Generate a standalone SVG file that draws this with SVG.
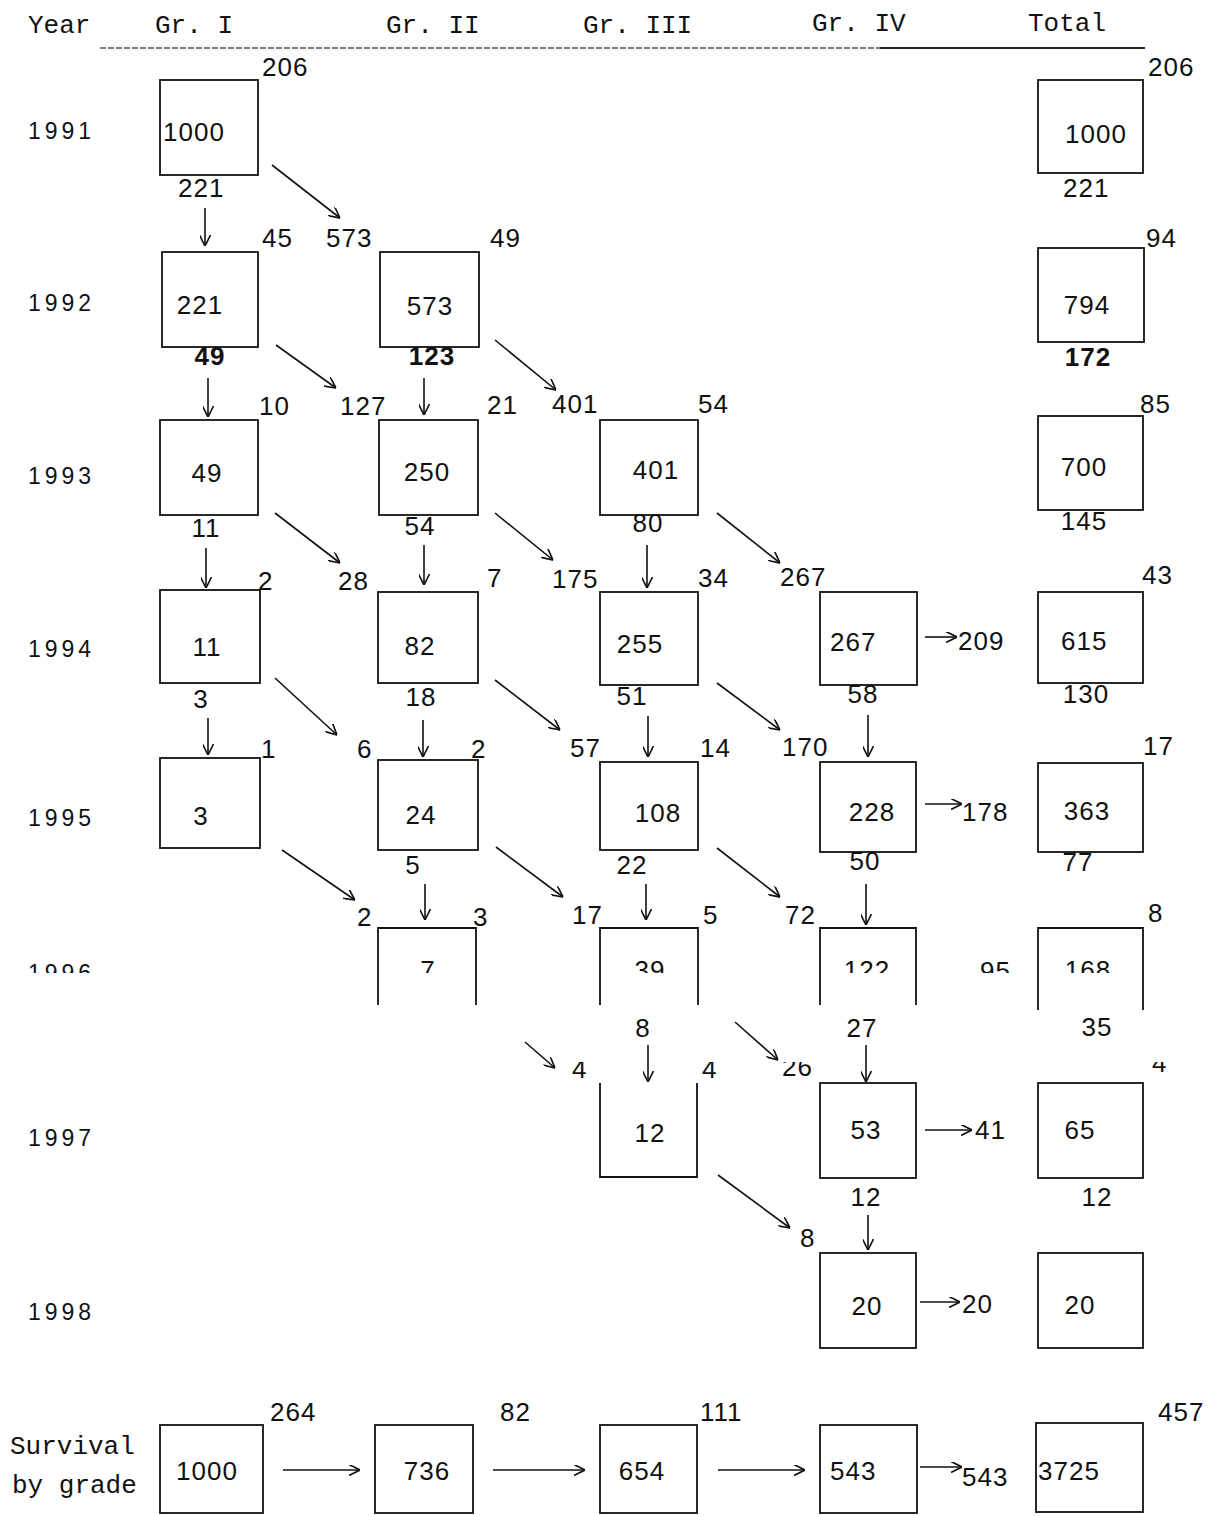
<svg xmlns="http://www.w3.org/2000/svg" width="1210" height="1516" viewBox="0 0 1210 1516">
<style>
.n{font-family:"Liberation Sans",Arial,sans-serif;font-size:26px;fill:#111;letter-spacing:1px}
.y{font-family:"Liberation Sans",Arial,sans-serif;font-size:23px;fill:#111;letter-spacing:4px}
.m{font-family:"Liberation Mono","Courier New",monospace;font-size:26px;fill:#111}
.b{font-weight:bold}
.c{text-anchor:middle}
.box{fill:none;stroke:#111;stroke-width:1.8}
.ar{fill:none;stroke:#111;stroke-width:1.6;marker-end:url(#ah)}
</style>
<defs>
<marker id="ah" viewBox="0 0 10 10" refX="10" refY="5" markerWidth="11" markerHeight="11" markerUnits="userSpaceOnUse" orient="auto">
<path d="M0,0 L10,5 L0,10" fill="none" stroke="#111" stroke-width="1.5"/>
</marker>
<clipPath id="top96"><rect x="0" y="930" width="1210" height="43"/></clipPath>
<clipPath id="bot97"><rect x="0" y="1062" width="1210" height="30"/></clipPath>
</defs>
<rect width="1210" height="1516" fill="#fff"/>

<g id="header">
<text class="m" x="28" y="33">Year</text>
<text class="m" x="155" y="33">Gr. I</text>
<text class="m" x="386" y="33">Gr. II</text>
<text class="m" x="583" y="33">Gr. III</text>
<text class="m" x="812" y="31">Gr. IV</text>
<text class="m" x="1028" y="31">Total</text>
<line x1="100" y1="48" x2="1145" y2="48" stroke="#555" stroke-width="1.3" stroke-dasharray="6 2"/>
<line x1="880" y1="48" x2="1145" y2="48" stroke="#222" stroke-width="2"/>
</g>

<g id="years">
<text class="y" x="28" y="139">1991</text>
<text class="y" x="28" y="311">1992</text>
<text class="y" x="28" y="484">1993</text>
<text class="y" x="28" y="657">1994</text>
<text class="y" x="28" y="826">1995</text>
<text class="y" x="28" y="981" clip-path="url(#top96)">1996</text>
<text class="y" x="28" y="1146">1997</text>
<text class="y" x="28" y="1320">1998</text>
<text class="m" x="10" y="1454">Survival</text>
<text class="m" x="12" y="1493">by grade</text>
</g>

<!-- 1991 -->
<g id="g1-1991">
<rect class="box" x="160" y="80" width="98" height="95"/>
<text class="n" x="163" y="141">1000</text>
<text class="n" x="262" y="76">206</text>
<text class="n" x="178" y="197">221</text>
</g>
<g id="tot-1991">
<rect class="box" x="1038" y="80" width="105" height="93"/>
<text class="n c" x="1096" y="143">1000</text>
<text class="n" x="1148" y="76">206</text>
<text class="n" x="1063" y="197">221</text>
</g>

<!-- 1992 -->
<g id="g1-1992">
<rect class="box" x="162" y="252" width="96" height="95"/>
<text class="n c" x="200" y="314">221</text>
<text class="n" x="262" y="247">45</text>
<text class="n b c" x="210" y="365">49</text>
</g>
<g id="g2-1992">
<rect class="box" x="380" y="252" width="99" height="95"/>
<text class="n c" x="430" y="315">573</text>
<text class="n" x="326" y="247">573</text>
<text class="n" x="490" y="247">49</text>
<text class="n b c" x="432" y="365">123</text>
</g>
<g id="tot-1992">
<rect class="box" x="1038" y="248" width="106" height="94"/>
<text class="n c" x="1087" y="314">794</text>
<text class="n" x="1146" y="247">94</text>
<text class="n b c" x="1088" y="366">172</text>
</g>

<!-- 1993 -->
<g id="g1-1993">
<rect class="box" x="160" y="420" width="98" height="95"/>
<text class="n c" x="207" y="482">49</text>
<text class="n" x="259" y="415">10</text>
<text class="n c" x="206" y="537">11</text>
</g>
<g id="g2-1993">
<rect class="box" x="379" y="420" width="99" height="95"/>
<text class="n c" x="427" y="481">250</text>
<text class="n" x="340" y="415">127</text>
<text class="n" x="487" y="414">21</text>
<text class="n c" x="420" y="535">54</text>
</g>
<g id="g3-1993">
<rect class="box" x="600" y="420" width="98" height="95"/>
<text class="n c" x="656" y="479">401</text>
<text class="n" x="552" y="413">401</text>
<text class="n" x="698" y="413">54</text>
<text class="n c" x="648" y="532">80</text>
</g>
<g id="tot-1993">
<rect class="box" x="1038" y="416" width="105" height="94"/>
<text class="n c" x="1084" y="476">700</text>
<text class="n" x="1140" y="413">85</text>
<text class="n c" x="1084" y="530">145</text>
</g>

<!-- 1994 -->
<g id="g1-1994">
<rect class="box" x="160" y="590" width="100" height="93"/>
<text class="n c" x="207" y="656">11</text>
<text class="n" x="258" y="590">2</text>
<text class="n c" x="201" y="708">3</text>
</g>
<g id="g2-1994">
<rect class="box" x="378" y="592" width="100" height="91"/>
<text class="n c" x="420" y="655">82</text>
<text class="n" x="338" y="590">28</text>
<text class="n" x="487" y="587">7</text>
<text class="n c" x="421" y="706">18</text>
</g>
<g id="g3-1994">
<rect class="box" x="600" y="592" width="98" height="93"/>
<text class="n c" x="640" y="653">255</text>
<text class="n" x="552" y="588">175</text>
<text class="n" x="698" y="587">34</text>
<text class="n c" x="632" y="705">51</text>
</g>
<g id="g4-1994">
<rect class="box" x="820" y="592" width="97" height="93"/>
<text class="n" x="830" y="651">267</text>
<text class="n" x="780" y="586">267</text>
<text class="n c" x="863" y="703">58</text>
<text class="n" x="958" y="650">209</text>
</g>
<g id="tot-1994">
<rect class="box" x="1038" y="592" width="105" height="91"/>
<text class="n" x="1061" y="650">615</text>
<text class="n" x="1142" y="584">43</text>
<text class="n c" x="1086" y="703">130</text>
</g>

<!-- 1995 -->
<g id="g1-1995">
<rect class="box" x="160" y="758" width="100" height="90"/>
<text class="n c" x="201" y="825">3</text>
<text class="n" x="261" y="758">1</text>
</g>
<g id="g2-1995">
<rect class="box" x="378" y="760" width="100" height="90"/>
<text class="n c" x="421" y="824">24</text>
<text class="n" x="357" y="758">6</text>
<text class="n" x="471" y="758">2</text>
<text class="n c" x="413" y="874">5</text>
</g>
<g id="g3-1995">
<rect class="box" x="600" y="762" width="98" height="88"/>
<text class="n c" x="658" y="822">108</text>
<text class="n" x="570" y="757">57</text>
<text class="n" x="700" y="757">14</text>
<text class="n c" x="632" y="874">22</text>
</g>
<g id="g4-1995">
<rect class="box" x="820" y="762" width="96" height="90"/>
<text class="n c" x="872" y="821">228</text>
<text class="n" x="782" y="756">170</text>
<text class="n c" x="865" y="870">50</text>
<text class="n" x="962" y="821">178</text>
</g>
<g id="tot-1995">
<rect class="box" x="1038" y="763" width="105" height="89"/>
<text class="n c" x="1087" y="820">363</text>
<text class="n" x="1143" y="755">17</text>
<text class="n c" x="1078" y="871">77</text>
</g>

<!-- 1996 -->
<g id="g2-1996">
<path class="box" d="M378,1005 V928 H476 V1005"/>
<text class="n c" x="428" y="979" clip-path="url(#top96)">7</text>
<text class="n" x="357" y="926">2</text>
<text class="n" x="473" y="926">3</text>
</g>
<g id="g3-1996">
<path class="box" d="M600,1005 V928 H698 V1005"/>
<text class="n c" x="650" y="979" clip-path="url(#top96)">39</text>
<text class="n" x="572" y="924">17</text>
<text class="n" x="703" y="924">5</text>
<text class="n c" x="643" y="1037">8</text>
</g>
<g id="g4-1996">
<path class="box" d="M820,1005 V928 H916 V1005"/>
<text class="n c" x="867" y="979" clip-path="url(#top96)">122</text>
<text class="n" x="785" y="924">72</text>
<text class="n c" x="862" y="1037">27</text>
<text class="n" x="980" y="980" clip-path="url(#top96)">95</text>
</g>
<g id="tot-1996">
<path class="box" d="M1038,1010 V928 H1143 V1010"/>
<text class="n c" x="1088" y="979" clip-path="url(#top96)">168</text>
<text class="n" x="1148" y="922">8</text>
<text class="n c" x="1097" y="1036">35</text>
</g>

<!-- 1997 -->
<g id="g3-1997">
<path class="box" d="M600,1083 V1177 H697 V1083"/>
<text class="n c" x="650" y="1142">12</text>
<text class="n" x="572" y="1078" clip-path="url(#bot97)">4</text>
<text class="n" x="702" y="1078" clip-path="url(#bot97)">4</text>
</g>
<g id="g4-1997">
<rect class="box" x="820" y="1083" width="96" height="95"/>
<text class="n c" x="866" y="1139">53</text>
<text class="n" x="782" y="1076" clip-path="url(#bot97)">26</text>
<text class="n c" x="866" y="1206">12</text>
<text class="n" x="975" y="1139">41</text>
</g>
<g id="tot-1997">
<rect class="box" x="1038" y="1083" width="105" height="95"/>
<text class="n c" x="1080" y="1139">65</text>
<text class="n" x="1152" y="1072" clip-path="url(#bot97)">4</text>
<text class="n c" x="1097" y="1206">12</text>
</g>

<!-- 1998 -->
<g id="g4-1998">
<rect class="box" x="820" y="1253" width="96" height="95"/>
<text class="n c" x="867" y="1315">20</text>
<text class="n" x="800" y="1247">8</text>
<text class="n" x="962" y="1313">20</text>
</g>
<g id="tot-1998">
<rect class="box" x="1038" y="1253" width="105" height="95"/>
<text class="n c" x="1080" y="1314">20</text>
</g>

<!-- Survival by grade -->
<g id="s1">
<rect class="box" x="160" y="1425" width="103" height="88"/>
<text class="n c" x="207" y="1480">1000</text>
<text class="n" x="270" y="1421">264</text>
</g>
<g id="s2">
<rect class="box" x="375" y="1425" width="98" height="88"/>
<text class="n c" x="427" y="1480">736</text>
<text class="n" x="500" y="1421">82</text>
</g>
<g id="s3">
<rect class="box" x="600" y="1425" width="97" height="88"/>
<text class="n c" x="642" y="1480">654</text>
<text class="n" x="700" y="1421">111</text>
</g>
<g id="s4">
<rect class="box" x="820" y="1425" width="97" height="88"/>
<text class="n" x="830" y="1480">543</text>
<text class="n" x="962" y="1486">543</text>
</g>
<g id="s-total">
<rect class="box" x="1036" y="1423" width="107" height="89"/>
<text class="n" x="1038" y="1480">3725</text>
<text class="n" x="1158" y="1421">457</text>
</g>

<g id="connectors">
<line class="ar" x1="205" y1="208" x2="205" y2="246"/>
<line class="ar" x1="272" y1="165" x2="340" y2="218"/>
<line class="ar" x1="208" y1="378" x2="208" y2="417"/>
<line class="ar" x1="276" y1="345" x2="336" y2="388"/>
<line class="ar" x1="424" y1="378" x2="424" y2="415"/>
<line class="ar" x1="495" y1="340" x2="556" y2="390"/>
<line class="ar" x1="206" y1="548" x2="206" y2="588"/>
<line class="ar" x1="275" y1="513" x2="340" y2="563"/>
<line class="ar" x1="424" y1="545" x2="424" y2="585"/>
<line class="ar" x1="495" y1="513" x2="553" y2="560"/>
<line class="ar" x1="647" y1="545" x2="647" y2="588"/>
<line class="ar" x1="717" y1="513" x2="780" y2="563"/>
<line class="ar" x1="925" y1="637" x2="957" y2="637"/>
<line class="ar" x1="208" y1="718" x2="208" y2="755"/>
<line class="ar" x1="275" y1="678" x2="337" y2="735"/>
<line class="ar" x1="423" y1="720" x2="423" y2="757"/>
<line class="ar" x1="495" y1="680" x2="560" y2="730"/>
<line class="ar" x1="648" y1="716" x2="648" y2="757"/>
<line class="ar" x1="717" y1="683" x2="780" y2="730"/>
<line class="ar" x1="868" y1="715" x2="868" y2="757"/>
<line class="ar" x1="925" y1="804" x2="962" y2="804"/>
<line class="ar" x1="282" y1="850" x2="355" y2="900"/>
<line class="ar" x1="425" y1="884" x2="425" y2="920"/>
<line class="ar" x1="496" y1="847" x2="563" y2="897"/>
<line class="ar" x1="646" y1="884" x2="646" y2="920"/>
<line class="ar" x1="717" y1="848" x2="780" y2="897"/>
<line class="ar" x1="866" y1="884" x2="866" y2="925"/>
<line class="ar" x1="525" y1="1042" x2="555" y2="1068"/>
<line class="ar" x1="648" y1="1045" x2="648" y2="1082"/>
<line class="ar" x1="735" y1="1022" x2="778" y2="1060"/>
<line class="ar" x1="866" y1="1045" x2="866" y2="1082"/>
<line class="ar" x1="925" y1="1130" x2="972" y2="1130"/>
<line class="ar" x1="718" y1="1175" x2="790" y2="1228"/>
<line class="ar" x1="868" y1="1215" x2="868" y2="1250"/>
<line class="ar" x1="920" y1="1302" x2="960" y2="1302"/>
<line class="ar" x1="283" y1="1470" x2="360" y2="1470"/>
<line class="ar" x1="493" y1="1470" x2="585" y2="1470"/>
<line class="ar" x1="718" y1="1470" x2="805" y2="1470"/>
<line class="ar" x1="920" y1="1467" x2="962" y2="1467"/>
</g>
</svg>
